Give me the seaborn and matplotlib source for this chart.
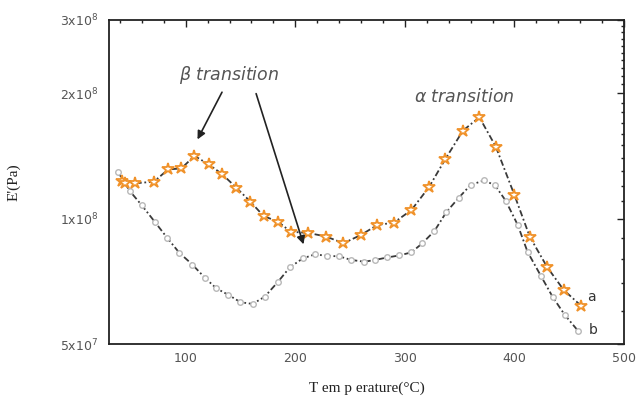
import numpy as np
import pandas as pd
import matplotlib
matplotlib.use("Agg")
import matplotlib.pyplot as plt
import matplotlib.ticker as mticker
import seaborn as sns

# Curve a (stars)
temp_a = [42, 45, 54, 71, 84, 96, 108, 121, 133, 146, 159, 171, 184, 196, 212, 228,
          244, 260, 275, 290, 306, 322, 337, 353, 368, 383, 400, 414, 430, 445, 461]
mod_a = [1.23e8, 1.22e8, 1.216e8, 1.227e8, 1.313e8, 1.32e8, 1.415e8, 1.35e8, 1.281e8,
         1.188e8, 1.099e8, 1.015e8, 9.84e7, 9.30e7, 9.24e7, 9.06e7, 8.73e7, 9.14e7,
         9.66e7, 9.78e7, 1.049e8, 1.19e8, 1.391e8, 1.627e8, 1.752e8, 1.489e8, 1.14e8,
         9.05e7, 7.64e7, 6.74e7, 6.17e7]

# Curve b (circles)
temp_b = [38, 49, 60, 72, 83, 94, 106, 118, 128, 139, 150, 161, 172, 184, 195, 207,
          218, 229, 240, 251, 263, 273, 284, 295, 306, 316, 327, 338, 349, 360, 372,
          382, 392, 403, 412, 424, 435, 446, 458]
mod_b = [1.297e8, 1.165e8, 1.076e8, 9.81e7, 9.00e7, 8.29e7, 7.76e7, 7.19e7, 6.80e7,
         6.56e7, 6.30e7, 6.24e7, 6.49e7, 7.04e7, 7.64e7, 8.03e7, 8.21e7, 8.14e7,
         8.12e7, 7.96e7, 7.88e7, 7.96e7, 8.07e7, 8.16e7, 8.30e7, 8.73e7, 9.34e7,
         1.038e8, 1.121e8, 1.205e8, 1.235e8, 1.205e8, 1.105e8, 9.66e7, 8.32e7,
         7.30e7, 6.48e7, 5.87e7, 5.38e7]

y_ticks = [5e7, 1e8, 2e8, 3e8]
y_tick_labels = [r"5x10$^7$", r"1x10$^8$", r"2x10$^8$", r"3x10$^8$"]
x_ticks = [100, 200, 300, 400, 500]

df_a = pd.DataFrame({"T": temp_a, "E": mod_a})
df_b = pd.DataFrame({"T": temp_b, "E": mod_b})

sns.set_style("white")
plt.rcParams["font.family"] = ["DejaVu Sans"]

fig = plt.figure(figsize=(6.37, 4.0), dpi=100)
ax = fig.add_axes([109 / 637, 1 - 344 / 400, (624 - 109) / 637, (344 - 20) / 400])

dash_color = "#3a3a3a"
sns.lineplot(data=df_b, x="T", y="E", ax=ax, color=dash_color, lw=1.3,
             linestyle=(0, (3.5, 1.5, 1, 1.5)), marker="o", markersize=4,
             markerfacecolor="white", markeredgecolor="#b8b8b8", markeredgewidth=1.0,
             zorder=2)
sns.lineplot(data=df_a, x="T", y="E", ax=ax, color=dash_color, lw=1.3,
             linestyle=(0, (3.5, 1.5, 1, 1.5)), marker="*", markersize=9,
             markerfacecolor="white", markeredgecolor="#f0922a", markeredgewidth=1.3,
             zorder=3)

ax.set_yscale("log")
ax.set_xlim(30, 500)
ax.set_ylim(5e7, 3e8)
ax.set_yticks(y_ticks)
ax.set_yticklabels(y_tick_labels)
ax.yaxis.set_minor_locator(mticker.FixedLocator(np.arange(5e7, 3e8, 1e7)))
ax.yaxis.set_minor_formatter(mticker.NullFormatter())
ax.set_xticks(x_ticks)
ax.xaxis.set_minor_locator(mticker.MultipleLocator(20))

ax.tick_params(which="both", direction="in", top=True, right=True,
               colors="#222222", labelcolor="#555555", labelsize=9, width=1.0)
ax.tick_params(which="major", length=5)
ax.tick_params(which="minor", length=2.5)
ax.tick_params(axis="x", pad=6)
ax.tick_params(axis="y", pad=8)
for s in ax.spines.values():
    s.set_color("#222222")
    s.set_linewidth(1.3)

ax.set_xlabel("T em p erature(°C)", family="Liberation Serif", fontsize=11,
              color="#222222", labelpad=12)
ax.set_ylabel("E'(Pa)", family="Liberation Serif", fontsize=11, color="#222222",
              labelpad=28)

ax.text(140, 2.21e8, r"$\beta$ transition", style="italic", fontsize=12.5,
        color="#555555", ha="center", va="center")
ax.text(354, 1.96e8, r"$\alpha$ transition", style="italic", fontsize=12.5,
        color="#555555", ha="center", va="center")
ax.annotate("", xy=(109.6, 1.529e8), xytext=(134.3, 2.04e8),
            arrowprops=dict(arrowstyle="-|>", color="#222222", lw=1.2,
                            mutation_scale=12))
ax.annotate("", xy=(208.3, 8.55e7), xytext=(163.5, 2.026e8),
            arrowprops=dict(arrowstyle="-|>", color="#222222", lw=1.2,
                            mutation_scale=12))
ax.text(470, 6.48e7, "a", fontsize=10, color="#333333", ha="center", va="center")
ax.text(472, 5.40e7, "b", fontsize=10, color="#333333", ha="center", va="center")

fig.savefig("out.png", dpi=100)
